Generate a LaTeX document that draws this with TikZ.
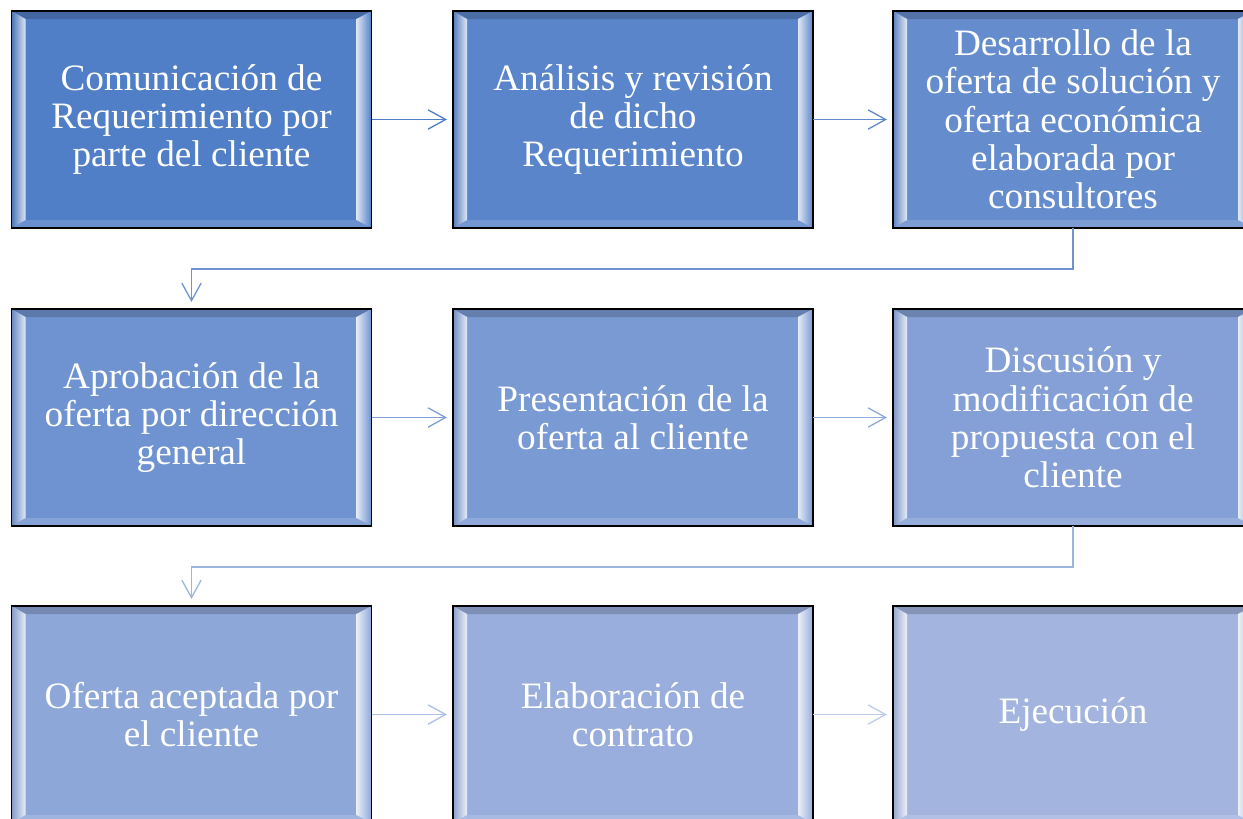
\documentclass[tikz,border=0pt]{standalone}
\usepackage{fontspec}
\setmainfont{Liberation Serif}
\usetikzlibrary{calc,arrows.meta}

\definecolor{caja1}{RGB}{80,126,199}
\definecolor{caja2}{RGB}{90,133,202}
\definecolor{caja3}{RGB}{101,140,205}
\definecolor{caja4}{RGB}{111,147,208}
\definecolor{caja5}{RGB}{122,154,211}
\definecolor{caja6}{RGB}{132,160,214}
\definecolor{caja7}{RGB}{142,167,217}
\definecolor{caja8}{RGB}{153,174,220}
\definecolor{caja9}{RGB}{163,181,223}
\definecolor{flecha1}{RGB}{79,126,199}
\definecolor{flecha2}{RGB}{95,137,204}
\definecolor{flecha3}{RGB}{111,148,209}
\definecolor{flecha4}{RGB}{127,159,214}
\definecolor{flecha5}{RGB}{143,170,219}
\definecolor{flecha6}{RGB}{158,181,224}
\definecolor{flecha7}{RGB}{174,192,229}
\definecolor{flecha8}{RGB}{190,203,234}

\newcommand{\cajafont}{\fontsize{21.2}{21.8}\selectfont}

\begin{document}
\begin{tikzpicture}
     \tikzset{caja/.style={draw=black, line width=1.1pt, fill=#1, text=white,
       font=\cajafont, align=center, inner sep=0pt, outer sep=0pt,
       minimum width=7.2cm, minimum height=4.34cm,
       path picture={
         \coordinate (pnw) at (path picture bounding box.north west);
         \coordinate (pne) at (path picture bounding box.north east);
         \coordinate (psw) at (path picture bounding box.south west);
         \coordinate (pse) at (path picture bounding box.south east);
         \fill[#1!82!black] (pnw) -- (pne) -- ($(pne)+(-0.3,-0.16)$)
           -- ($(pnw)+(0.28,-0.16)$) -- cycle;
         \fill[#1!85!white] (psw) -- (pse) -- ($(pse)+(-0.3,0.16)$)
           -- ($(psw)+(0.28,0.16)$) -- cycle;
         \shade[left color=#1!92!black, right color=white!80!#1] (pnw)
           -- ($(pnw)+(0.28,-0.16)$) -- ($(psw)+(0.28,0.16)$) -- (psw) -- cycle;
         \shade[left color=white!80!#1, right color=#1] (pne)
           -- ($(pne)+(-0.3,-0.16)$) -- ($(pse)+(-0.3,0.16)$) -- (pse) -- cycle;
       }}}

     \tikzstyle{flecha}=[line width=0.75pt, -{Straight Barb[length=10pt,width=11pt]},
       shorten >=0.12cm]

     \useasboundingbox (0,0) rectangle (24.86,-16.36);
     \clip (0,0) rectangle (24.86,-16.36);

     % first row
     \node[caja=caja1] (com) at (3.83,-2.39) {Comunicación de\\Requerimiento por\\parte del cliente};
     \node[caja=caja2] (ana) at (12.66,-2.39) {Análisis y revisión\\de dicho\\Requerimiento};
     \node[caja=caja3] (des) at (21.46,-2.39) {Desarrollo de la\\oferta de solución y\\oferta económica\\elaborada por\\consultores};

     % second row
     \node[caja=caja4] (apr) at (3.83,-8.35) {Aprobación de la\\oferta por dirección\\general};
     \node[caja=caja5] (pre) at (12.66,-8.35) {Presentación de la\\oferta al cliente};
     \node[caja=caja6] (dis) at (21.46,-8.35) {Discusión y\\modificación de\\propuesta con el\\cliente};

     % third row
     \node[caja=caja7] (ace) at (3.83,-14.29) {Oferta aceptada por\\el cliente};
     \node[caja=caja8] (ela) at (12.66,-14.29) {Elaboración de\\contrato};
     \node[caja=caja9] (eje) at (21.46,-14.29) {Ejecución};

     \draw[flecha, color=flecha1] (com) -- (ana);
     \draw[flecha, color=flecha2] (ana) -- (des);
     \draw[flecha, color=flecha3, shorten >=0.14cm] (des.south) -- ++(0,-0.82) -| (apr.north);
     \draw[flecha, color=flecha4] (apr) -- (pre);
     \draw[flecha, color=flecha5] (pre) -- (dis);
     \draw[flecha, color=flecha6, shorten >=0.14cm] (dis.south) -- ++(0,-0.82) -| (ace.north);
     \draw[flecha, color=flecha7] (ace) -- (ela);
     \draw[flecha, color=flecha8] (ela) -- (eje);
   \end{tikzpicture}
\end{document}
